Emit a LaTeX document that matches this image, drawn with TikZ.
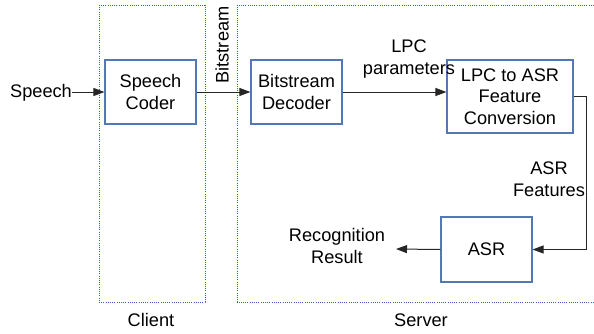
\documentclass[tikz,border=0pt]{standalone}
\usepackage{fontspec}
\setmainfont{Liberation Sans}
\usepackage{tikz}
\usetikzlibrary{arrows.meta,positioning,calc}
\definecolor{boxblue}{RGB}{84,120,180}
\definecolor{dotblue}{RGB}{50,100,190}

\begin{document}
\begin{tikzpicture}[
  x=1pt, y=-1pt,
  every node/.style={font=\fontsize{18.2}{21.5}\selectfont, align=center, inner sep=0pt},
  blk/.style={draw=boxblue, line width=1.1pt, fill=white},
  region/.style={draw=dotblue, line width=1pt, dash pattern=on 1pt off 1.2pt},
  arrow/.style={-{Triangle[length=11pt, width=8pt]}, line width=1pt, black!85},
]
\useasboundingbox (0,0) rectangle (594,333);

%% Client / server regions
\draw[region] (99,5) rectangle (205,302);
\draw[region] (594,5) -- (237,5) -- (237,302) -- (594,302);
\node (client) at (151,320) {Client};
\node (server) at (421,320) {Server};

%% Blocks
\node[blk, minimum width=91pt, minimum height=64pt] (coder) at (150.5,92) {Speech\\Coder};
\node[blk, minimum width=91pt, minimum height=64pt] (decoder) at (296.5,92) {Bitstream\\Decoder};
\node[blk, minimum width=126pt, minimum height=73pt] (conv) at (510,96.5) {LPC to ASR\\Feature\\Conversion};
\node[blk, minimum width=91pt, minimum height=65pt] (asr) at (486.5,249.5) {ASR};

%% Text ends
\node (speech) at (41,93) {Speech};
\coordinate (out) at (396,249);
\node (result) at (337,246) {Recognition\\Result};

%% Connections
\draw[arrow] (speech.east |- coder.west) -- (coder.west);
\draw[arrow] (coder.east) -- (decoder.west);
\draw[arrow] (decoder.east) -- (conv.west |- decoder.east);
\draw[arrow] (conv.east) -- ++(13,0) |- (asr.east);
\draw[arrow] (asr.west) -- (out);

%% Labels
\node[rotate=90] (bits) at (222,45) {Bitstream};
\node (lpc) at (409,59) {LPC\\parameters};
\node (feat) at (549,179) {ASR\\Features};

\end{tikzpicture}
\end{document}
